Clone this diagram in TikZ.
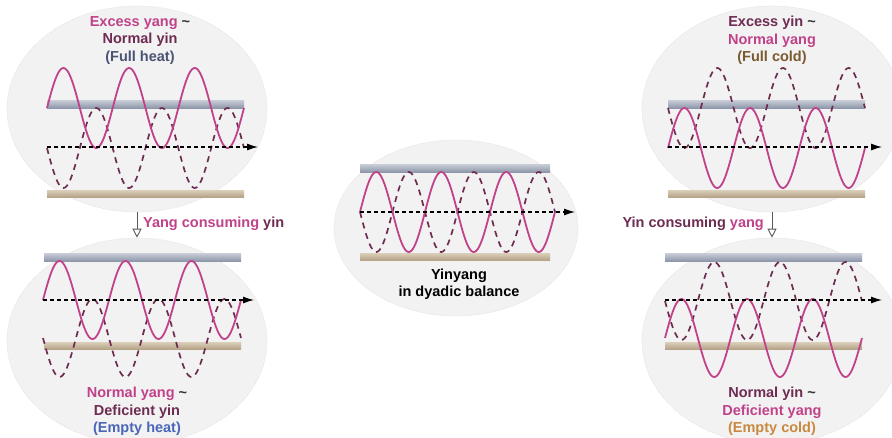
\documentclass[tikz,border=0pt]{standalone}
\usepackage{fontspec}
\setmainfont{Liberation Sans}
\usetikzlibrary{shapes.geometric,arrows.meta}
\definecolor{yangc}{HTML}{C0428A}
\definecolor{yinc}{HTML}{6E2C52}
\definecolor{fullheat}{HTML}{4A5474}
\definecolor{emptyheat}{HTML}{4A66B6}
\definecolor{fullcold}{HTML}{7A5A30}
\definecolor{emptycold}{HTML}{C88A40}
\definecolor{panelfill}{HTML}{F2F2F2}
\definecolor{paneledge}{HTML}{EAD6DE}
\definecolor{bartopA}{HTML}{C9CED8}
\definecolor{bartopB}{HTML}{8E97AA}
\definecolor{barbotA}{HTML}{DCCFBA}
\definecolor{barbotB}{HTML}{B5A488}
\newcommand\wavecurve[5]{\draw[#1] plot[domain=#2:#3,samples=160,smooth] (\x,{#4-(#5)*sin(((\x-#2)/(#3-#2))*1080)});}
\tikzset{
  panel/.style={ellipse, fill=panelfill, draw=paneledge, densely dotted, line width=0.6pt, inner sep=0pt},
  yangwave/.style={draw=yangc, line width=1.8pt},
  yinwave/.style={draw=yinc, line width=1.7pt, dash pattern=on 6pt off 5pt},
  axisline/.style={draw=black, line width=1.1pt, dash pattern=on 4pt off 3pt, -{Latex[length=11pt,width=7pt]}},
  heatbar/.style={top color=bartopA, bottom color=bartopB, draw=none},
  coldbar/.style={top color=barbotA, bottom color=barbotB, draw=none},
  caption/.style={font=\bfseries\fontsize{14.5}{17.5}\selectfont, align=center, inner sep=0pt},
  consume/.style={draw=black!65, line width=0.9pt, -{Triangle[open,length=9pt,width=9pt]}, fill=white},
}
\begin{document}
\begin{tikzpicture}[x=1pt,y=-1pt]
\clip (0,0) rectangle (892,437);
\fill[white] (0,0) rectangle (892,437);
% panels
\node[panel, minimum width=260pt, minimum height=206pt] (tl) at (137,109) {};
\node[panel, minimum width=260pt, minimum height=206pt] (bl) at (137,341) {};
\node[panel, minimum width=244pt, minimum height=176pt] (cc) at (456,228) {};
\node[panel, minimum width=260pt, minimum height=206pt] (tr) at (772,109) {};
\node[panel, minimum width=260pt, minimum height=206pt] (br) at (772,341) {};
% consuming arrows
\draw[consume] (tl.south) -- (bl.north);
\draw[consume] (tr.south) -- (br.north);
\node[caption, anchor=west] (lbl1) at (143,224) {\textcolor{yangc}{Yang consuming} \textcolor{yinc}{yin}};
\node[caption, anchor=east] (lbl2) at (764,224) {\textcolor{yinc}{Yin consuming} \textcolor{yangc}{yang}};
% ---------- top left: full heat
\path[heatbar] (47,100) rectangle (244,108);
\path[coldbar] (47,190) rectangle (244,197);
\wavecurve{yinwave}{47}{244}{148}{-40}
\wavecurve{yangwave}{47}{244}{108}{40}
\coordinate (tla) at (47,147); \coordinate (tlb) at (258,147);
\draw[axisline] (tla) -- (tlb);
\node[caption] (tlt) at (140,40.5) {\textcolor{yangc}{Excess yang} \textcolor{black!80}{\textasciitilde}\\ \textcolor{yinc}{Normal yin}\\ \textcolor{fullheat}{(Full heat)}};
% ---------- bottom left: empty heat
\path[heatbar] (44,253) rectangle (241,261);
\path[coldbar] (44,342) rectangle (241,349);
\wavecurve{yinwave}{43}{241}{338}{-39}
\wavecurve{yangwave}{43}{241}{300}{39}
\coordinate (bla) at (43,300); \coordinate (blb) at (254,300);
\draw[axisline] (bla) -- (blb);
\node[caption] (blt) at (137,411.5) {\textcolor{yangc}{Normal yang} \textcolor{black!80}{\textasciitilde}\\ \textcolor{yinc}{Deficient yin}\\ \textcolor{emptyheat}{(Empty heat)}};
% ---------- centre: balance
\path[heatbar] (360,164) rectangle (550,172);
\path[coldbar] (360,253) rectangle (550,260);
\wavecurve{yinwave}{360}{555}{212}{-40}
\wavecurve{yangwave}{360}{555}{212}{40}
\coordinate (cca) at (360,212); \coordinate (ccb) at (575,212);
\draw[axisline] (cca) -- (ccb);
\node[caption] (cct) at (459,284) {Yinyang\\ in dyadic balance};
% ---------- top right: full cold
\path[heatbar] (668,100) rectangle (865,108);
\path[coldbar] (668,190) rectangle (865,197);
\wavecurve{yinwave}{668}{865}{108}{-40}
\wavecurve{yangwave}{668}{865}{148}{40}
\coordinate (tra) at (668,147); \coordinate (trb) at (882,147);
\draw[axisline] (tra) -- (trb);
\node[caption] (trt) at (772,40.5) {\textcolor{yinc}{Excess yin} \textcolor{black!80}{\textasciitilde}\\ \textcolor{yangc}{Normal yang}\\ \textcolor{fullcold}{(Full cold)}};
% ---------- bottom right: empty cold
\path[heatbar] (665,253) rectangle (862,261);
\path[coldbar] (665,342) rectangle (862,349);
\wavecurve{yinwave}{665}{862}{301}{-39}
\wavecurve{yangwave}{665}{862}{338}{39}
\coordinate (bra) at (665,300); \coordinate (brb) at (882,300);
\draw[axisline] (bra) -- (brb);
\node[caption] (brt) at (772,411.5) {\textcolor{yinc}{Normal yin} \textcolor{black!80}{\textasciitilde}\\ \textcolor{yangc}{Deficient yang}\\ \textcolor{emptycold}{(Empty cold)}};
\end{tikzpicture}
\end{document}
